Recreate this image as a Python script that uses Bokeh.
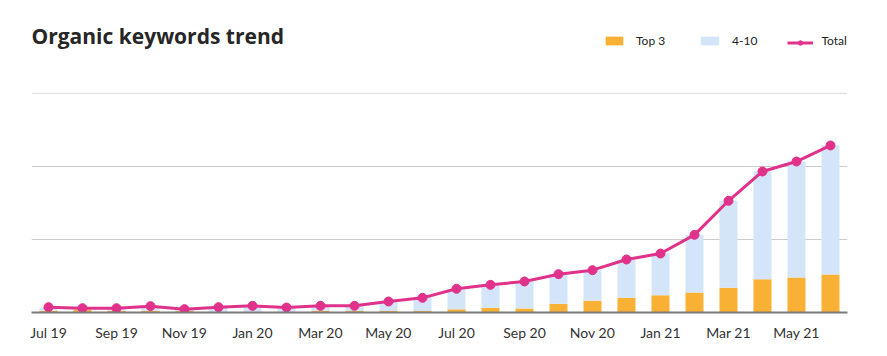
from bokeh.plotting import figure
from bokeh.models import (ColumnDataSource, Range1d, FixedTicker, Grid, Label,
                          Legend, LegendItem)
from bokeh.embed import file_html
from bokeh.resources import INLINE

# ---- data ----
months = ["Jul 19", "Aug 19", "Sep 19", "Oct 19", "Nov 19", "Dec 19",
          "Jan 20", "Feb 20", "Mar 20", "Apr 20", "May 20", "Jun 20",
          "Jul 20", "Aug 20", "Sep 20", "Oct 20", "Nov 20", "Dec 20",
          "Jan 21", "Feb 21", "Mar 21", "Apr 21", "May 21", "Jun 21"]
top3 = [25, 35, 25, 25, 20, 5, 5, 5, 25, 20, 20, 20,
        45, 65, 55, 120, 160, 200, 235, 275, 340, 455, 480, 520]
pos4_10 = [45, 20, 30, 55, 20, 65, 80, 60, 60, 65, 140, 195,
           275, 310, 370, 405, 420, 525, 575, 790, 1190, 1480, 1590, 1770]
total = [73, 59, 59, 87, 46, 73, 91, 68, 91, 91, 151, 201,
         325, 379, 425, 525, 580, 726, 808, 1064, 1530, 1932, 2068, 2288]
grid_values = [1000, 2000]
top_grid_value = [3000]

ORANGE = "#F8B134"
BLUE = "#D5E5F9"
PINK = "#E0328A"
FONT = "Lato"

idx = list(range(len(months)))
src = ColumnDataSource(dict(x=idx, top3=top3, pos4_10=pos4_10, total=total))

p = figure(width=887, height=356, output_backend="svg", toolbar_location=None,
           x_range=Range1d(-0.5, len(months) - 0.5),
           y_range=Range1d(0, 4274),
           y_axis_location=None,
           min_border_left=31, min_border_right=40,
           min_border_top=0, min_border_bottom=44)
p.outline_line_color = None
p.xgrid.visible = False
p.ygrid.visible = False
p.background_fill_color = "white"
p.border_fill_color = "white"

# grids
p.add_layout(Grid(dimension=1, ticker=FixedTicker(ticks=grid_values),
                  grid_line_color="#cccccc", grid_line_width=1))
p.add_layout(Grid(dimension=1, ticker=FixedTicker(ticks=top_grid_value),
                  grid_line_color="#e4e4e4", grid_line_width=1.5))

bars = p.vbar_stack(["top3", "pos4_10"], x="x", width=0.53, source=src,
                    color=[ORANGE, BLUE], line_color=None)
line_r = p.line("x", "total", source=src, line_color=PINK, line_width=3)
dots_r = p.scatter("x", "total", source=src, size=9, fill_color=PINK,
                   line_color=PINK)

# x axis
ax = p.xaxis[0]
ax.ticker = FixedTicker(ticks=idx[::2])
ax.major_label_overrides = {i: months[i] for i in idx[::2]}
ax.major_tick_line_color = None
ax.minor_tick_line_color = None
ax.major_tick_out = 0
ax.major_tick_in = 0
ax.major_label_standoff = 11
ax.axis_line_color = "#7a7a7a"
ax.axis_line_width = 2
ax.major_label_text_font = FONT
ax.major_label_text_font_size = "14px"
ax.major_label_text_color = "#333333"

# title
p.add_layout(Label(x=0, y=277, x_units="screen", y_units="screen",
                   text="Organic keywords trend", text_font="Open Sans",
                   text_font_style="bold",
                   text_font_size="21px", text_color="#262626",
                   text_baseline="alphabetic"))

# legends
def make_legend(label, renderers, x, glyph_w):
    lg = Legend(items=[LegendItem(label=label, renderers=renderers)],
                location=(x, 264), orientation="horizontal",
                glyph_width=glyph_w, glyph_height=11, label_height=11,
                label_standoff=11, padding=0, margin=0, spacing=0,
                border_line_color=None, background_fill_alpha=0,
                label_text_font=FONT, label_text_font_size="12px",
                label_text_color="#222222")
    p.add_layout(lg, "center")

make_legend("Top 3", [bars[0]], 572, 22)
make_legend("4-10", [bars[1]], 667, 23)
make_legend(" ", [line_r, dots_r], 756, 26)
p.add_layout(Label(x=790, y=272, x_units="screen", y_units="screen",
                   text="Total", text_font=FONT, text_font_size="12px",
                   text_color="#222222", text_baseline="middle"))

open("out.html", "w").write(file_html(p, INLINE))
